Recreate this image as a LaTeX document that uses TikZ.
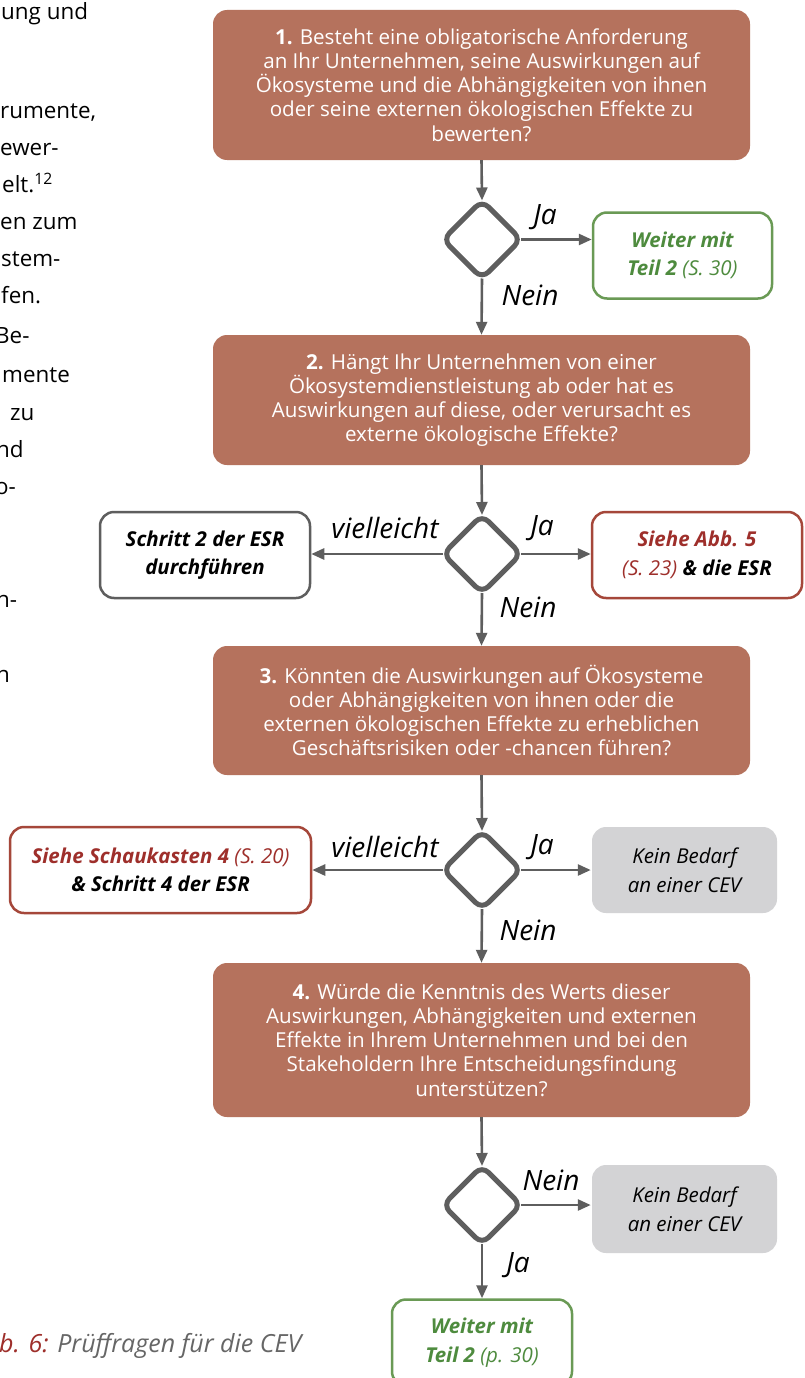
\documentclass[tikz,border=0pt]{standalone}
\usepackage{fontspec}
\setmainfont{Open Sans}
\usetikzlibrary{shapes.geometric,arrows.meta}
\definecolor{qbrown}{HTML}{B5725D}
\definecolor{dred}{HTML}{A5473A}
\definecolor{tred}{HTML}{9E2F2B}
\definecolor{dgreen}{HTML}{6A9A55}
\definecolor{tgreen}{HTML}{4E8B3E}
\definecolor{lgray}{HTML}{D3D3D5}
\definecolor{lineg}{HTML}{5E5E5E}
\definecolor{capg}{HTML}{666666}
\tikzset{
 qbox/.style={rectangle, rounded corners=14pt, fill=qbrown, text=white, minimum width=537pt, align=center, inner sep=0pt, font=\fontsize{20.6}{24.2}\selectfont},
 sidebox/.style={rectangle, rounded corners=14pt, line width=2.5pt, align=center, inner sep=0pt, font=\fontsize{20.5}{28.5}\selectfont\itshape, minimum height=86pt},
 dec/.style={diamond, draw=lineg, line width=5pt, rounded corners=9pt, minimum width=78pt, minimum height=78pt, inner sep=0pt, outer sep=0pt, aspect=1},
 conn/.style={draw=lineg, line width=2.6pt, -{Triangle[length=13pt,width=11pt]}},
 lab/.style={font=\fontsize{28}{32}\selectfont\itshape, text=black, inner sep=0pt},
 body/.style={anchor=base west, inner sep=0pt, font=\fontsize{22.4}{26}\selectfont, text=black},
}
\begin{document}
\begin{tikzpicture}[x=1pt,y=-1pt]
\clip (0,0) rectangle (805,1378);
\fill[white] (0,0) rectangle (805,1378);

% left page text fragments
\node[body] (t1) at (1,20) {ung und};
\node[body] (t2) at (0,118) {rumente,};
\node[body] (t3) at (0,155) {ewer-};
\node[body] (t4) at (2,192) {elt.\textsuperscript{12}};
\node[body] (t5) at (0,229) {en zum};
\node[body] (t6) at (1,266) {stem-};
\node[body] (t7) at (1,303) {fen.};
\node[body] (t8) at (-5,343) {Be-};
\node[body] (t9) at (2,382) {mente};
\node[body] (t10) at (10,420) {zu};
\node[body] (t11) at (-4,457) {nd};
\node[body] (t12) at (-5,494) {o-};
\node[body] (t13) at (-4,607) {n-};
\node[body] (t14) at (-4,682) {n};
\node[anchor=base west, inner sep=0pt, font=\fontsize{25}{29}\selectfont\itshape] (cap) at (-1,1352) {\textcolor{tred}{b. 6:} \textcolor{capg}{Prüffragen für die CEV}};

% question boxes
\node[qbox, minimum height=150pt] (q1) at (481.5,85) {\textbf{1.} Besteht eine obligatorische Anforderung\\ an Ihr Unternehmen, seine Auswirkungen auf\\ Ökosysteme und die Abhängigkeiten von ihnen\\ oder seine externen ökologischen Effekte zu\\ bewerten?};
\node[qbox, minimum height=130pt] (q2) at (481.5,400) {\textbf{2.} Hängt Ihr Unternehmen von einer\\ Ökosystemdienstleistung ab oder hat es\\ Auswirkungen auf diese, oder verursacht es\\ externe ökologische Effekte?};
\node[qbox, minimum height=129pt] (q3) at (481.5,710.5) {\textbf{3.} Könnten die Auswirkungen auf Ökosysteme\\ oder Abhängigkeiten von ihnen oder die\\ externen ökologischen Effekte zu erheblichen\\ Geschäftsrisiken oder -chancen führen?};
\node[qbox, minimum height=154pt] (q4) at (481.5,1040) {\textbf{4.} Würde die Kenntnis des Werts dieser\\ Auswirkungen, Abhängigkeiten und externen\\ Effekte in Ihrem Unternehmen und bei den\\ Stakeholdern Ihre Entscheidungsfindung\\ unterstützen?};

% decisions
\node[dec] (d1) at (482,239.5) {};
\node[dec] (d2) at (482,554) {};
\node[dec] (d3) at (482,870) {};
\node[dec] (d4) at (482,1205) {};

% side boxes
\node[sidebox, draw=dgreen, text=tgreen, minimum width=179pt] (g1) at (682.5,255.5) {\textbf{Weiter mit}\\ \textbf{Teil 2} (S. 30)};
\node[sidebox, draw=lineg, text=black, minimum width=210pt] (s2) at (205,555) {\textbf{Schritt 2 der ESR}\\ \textbf{durchführen}};
\node[sidebox, draw=dred, text=black, minimum width=210pt] (r1) at (697,555) {\textcolor{tred}{\textbf{Siehe Abb. 5}}\\ \textcolor{tred}{(S. 23)} \textbf{\& die ESR}};
\node[sidebox, draw=dred, text=black, minimum width=301pt] (r2) at (160.5,870) {\textcolor{tred}{\textbf{Siehe Schaukasten 4} (S. 20)}\\ \textbf{\& Schritt 4 der ESR}};
\node[sidebox, fill=lgray, text=black, minimum width=185pt] (k1) at (684.5,870) {Kein Bedarf\\ an einer CEV};
\node[sidebox, fill=lgray, text=black, minimum width=185pt, minimum height=88pt] (k2) at (684.5,1209) {Kein Bedarf\\ an einer CEV};
\node[sidebox, draw=dgreen, text=tgreen, minimum width=180pt] (g2) at (482,1342.5) {\textbf{Weiter mit}\\ \textbf{Teil 2} (p. 30)};

% connectors
\draw[conn] (q1.south) -- (d1.north);
\draw[conn] (d1.east) -- (g1.west |- d1.east);
\draw[conn] (d1.south) -- (q2.north);
\draw[conn] (q2.south) -- (d2.north);
\draw[conn] (d2.west) -- (s2.east |- d2.west);
\draw[conn] (d2.east) -- (r1.west |- d2.east);
\draw[conn] (d2.south) -- (q3.north);
\draw[conn] (q3.south) -- (d3.north);
\draw[conn] (d3.west) -- (r2.east |- d3.west);
\draw[conn] (d3.east) -- (k1.west |- d3.east);
\draw[conn] (d3.south) -- (q4.north);
\draw[conn] (q4.south) -- (d4.north);
\draw[conn] (d4.east) -- (k2.west |- d4.east);
\draw[conn] (d4.south) -- (g2.north);

% labels
\node[lab] (l1) at (545,217) {Ja};
\node[lab] (l2) at (530,295) {Nein};
\node[lab] (l3) at (385,528) {vielleicht};
\node[lab] (l4) at (542,528) {Ja};
\node[lab] (l5) at (528,607) {Nein};
\node[lab] (l6) at (385,847) {vielleicht};
\node[lab] (l7) at (542,847) {Ja};
\node[lab] (l8) at (528,930) {Nein};
\node[lab] (l9) at (551,1180) {Nein};
\node[lab] (l10) at (518,1265) {Ja};
\end{tikzpicture}
\end{document}
